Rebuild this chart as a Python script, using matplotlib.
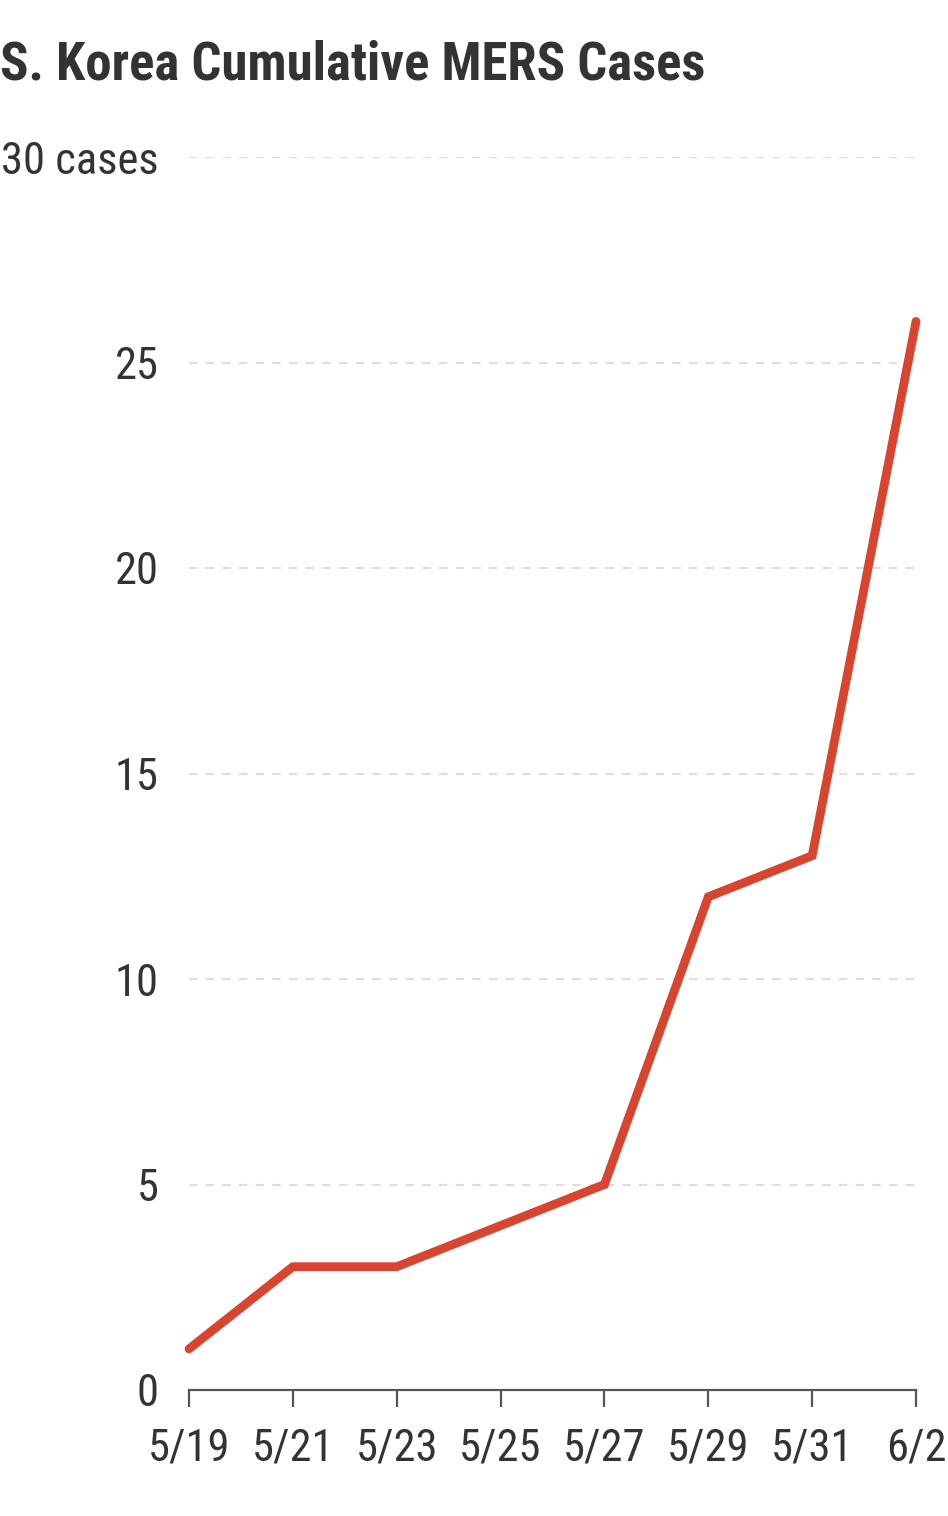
import matplotlib
matplotlib.use("Agg")
import matplotlib.pyplot as plt
from matplotlib import font_manager
import numpy as np

# pick a condensed sans that is actually installed
installed = {f.name for f in font_manager.fontManager.ttflist}
family = "DejaVu Sans"
for cand in ["Roboto Condensed", "Archivo Narrow", "PT Sans Narrow", "Liberation Sans Narrow",
             "Sofia Sans Condensed", "Encode Sans Condensed", "Fira Sans Condensed", "Oswald"]:
    if cand in installed:
        family = cand
        break
plt.rcParams['font.family'] = [family, 'DejaVu Sans']

dates = ["5/19", "5/21", "5/23", "5/25", "5/27", "5/29", "5/31", "6/2"]
cases = [1, 3, 3, 4, 5, 12, 13, 26]
yticks = [0, 5, 10, 15, 20, 25, 30]
ylabels = ["0", "5", "10", "15", "20", "25", "30 cases"]

W, H = 948, 1516
fig = plt.figure(figsize=(W / 100, H / 100), dpi=100)
ax = fig.add_axes([189 / W, 1 - 1390 / H, (916 - 189) / W, (1390 - 157) / H])

x = np.arange(len(dates))
ax.plot(x, cases, color="#d9442f", lw=6.3, solid_capstyle="round", solid_joinstyle="miter",
        clip_on=False, zorder=3)

ax.set_xlim(0, len(dates) - 1)
ax.set_ylim(0, 30)
ax.set_xticks(x)
ax.set_xticklabels(dates, fontsize=32, color="#333333")
ax.set_yticks(yticks)
ax.set_yticklabels(ylabels, fontsize=32, color="#333333")

for t in yticks[1:]:
    ax.axhline(t, color="#dddddd", lw=1.5, ls=(0, (4, 4)), zorder=1)

for s in ["top", "right", "left"]:
    ax.spines[s].set_visible(False)
ax.spines["bottom"].set_color("#555555")
ax.spines["bottom"].set_linewidth(1.6)
ax.tick_params(axis="x", length=12, width=1.6, color="#555555", pad=15)
ax.tick_params(axis="y", length=0, pad=22)

fig.text(0.0, 1 - 79 / H, "S. Korea Cumulative MERS Cases", fontsize=38, fontweight="bold",
         color="#333333", ha="left", va="baseline")

fig.savefig("out.png", dpi=100, facecolor="white")
